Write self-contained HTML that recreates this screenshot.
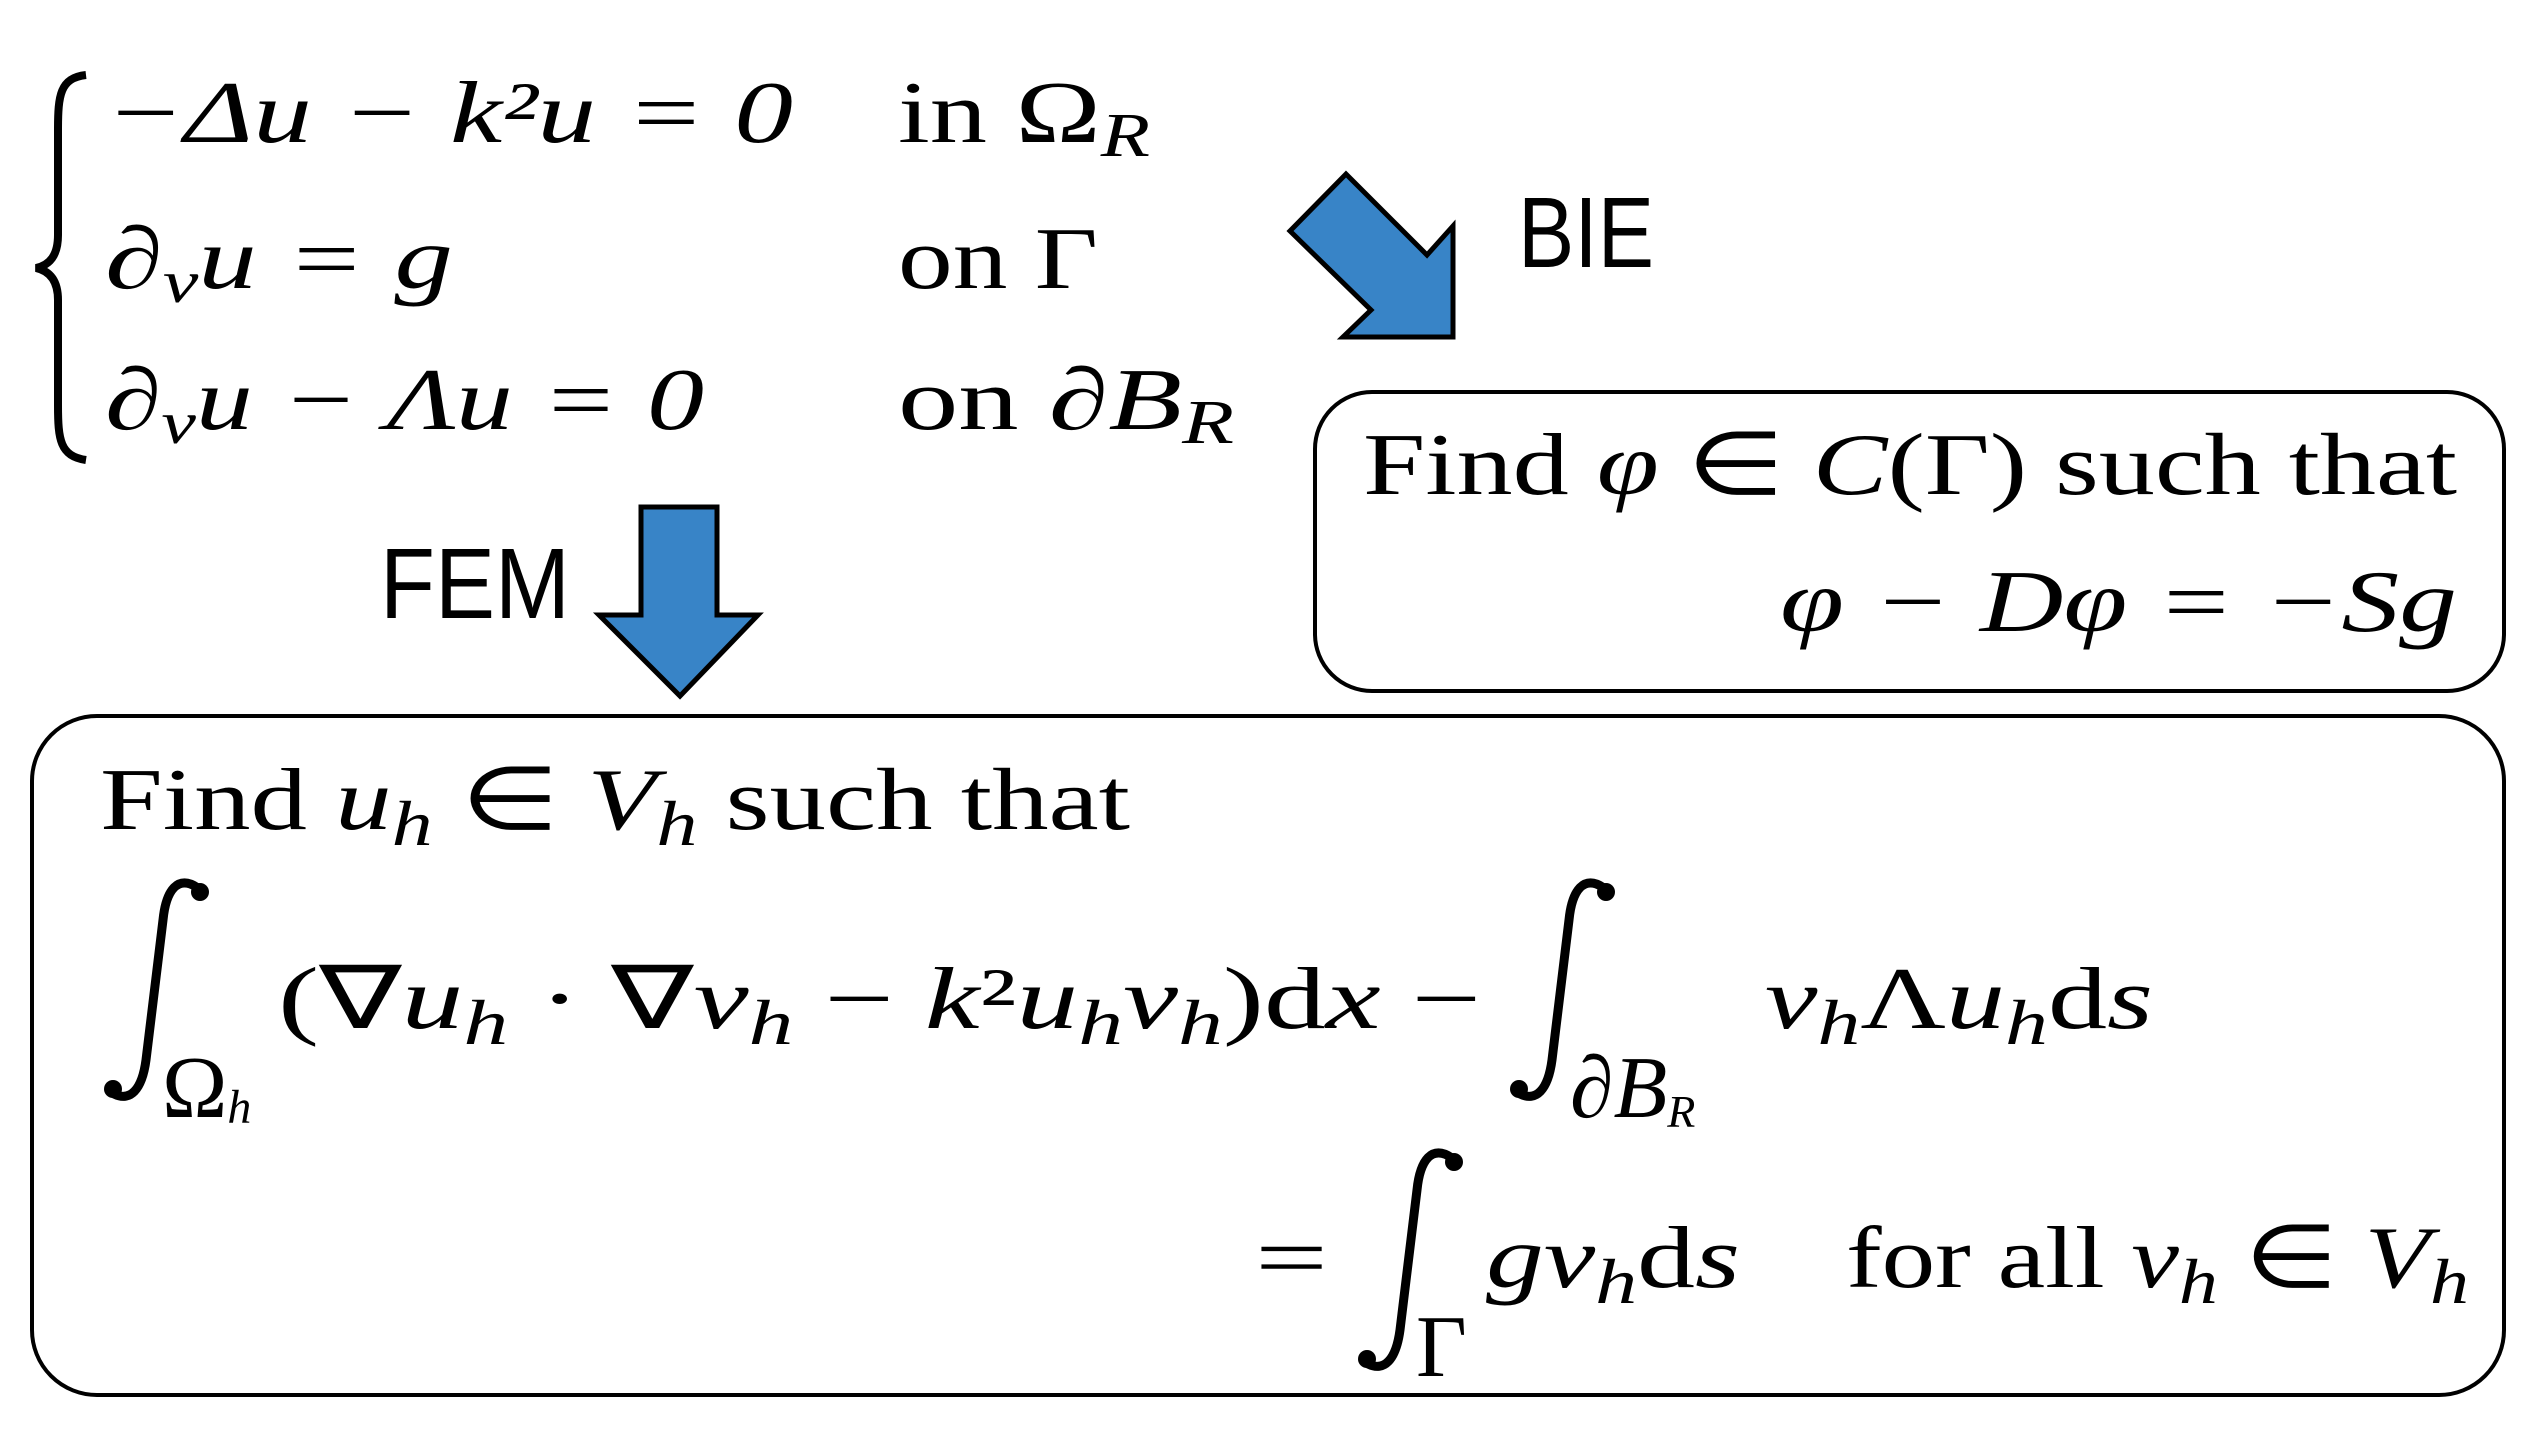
<!DOCTYPE html>
<html><head><meta charset="utf-8"><style>
html,body{margin:0;padding:0;background:#fff;}
svg{display:block}
.m{font-family:"Liberation Serif",serif;font-size:88px;fill:#000}
.i{font-style:italic}
.s{font-family:"Liberation Sans",sans-serif;fill:#000}
</style></head><body>
<svg width="2538" height="1435" viewBox="0 0 2538 1435" xmlns="http://www.w3.org/2000/svg">
<defs>
<g id="int">
<path d="M90 8 C 70 -6 58 10 55 40 L 38 180 C 34 210 22 222 6 214" fill="none" stroke="#000" stroke-width="9"/>
<circle cx="92" cy="12" r="9"/><circle cx="5" cy="209" r="9"/>
</g>
</defs>
<path d="M86 75 C 60 78 58 95 58 130 L 58 235 C 58 255 50 265 36 268 C 50 271 58 281 58 300 L 58 405 C 58 440 60 456 86 460" fill="none" stroke="#000" stroke-width="8"/>
<text class="m i" x="105" y="142" textLength="688" lengthAdjust="spacingAndGlyphs">−Δu − k²u = 0</text>
<text class="m" x="898" y="142" textLength="252" lengthAdjust="spacingAndGlyphs">in Ω<tspan class="i" font-size="62" dy="14">R</tspan></text>
<text class="m i" x="105" y="288" textLength="348" lengthAdjust="spacingAndGlyphs">∂<tspan font-size="60" dy="14">ν</tspan><tspan dy="-14">u = g</tspan></text>
<text class="m" x="898" y="288" textLength="200" lengthAdjust="spacingAndGlyphs">on Γ</text>
<text class="m i" x="105" y="429" textLength="599" lengthAdjust="spacingAndGlyphs">∂<tspan font-size="60" dy="14">ν</tspan><tspan dy="-14">u − Λu = 0</tspan></text>
<text class="m" x="898" y="429" textLength="336" lengthAdjust="spacingAndGlyphs">on <tspan class="i">∂B</tspan><tspan class="i" font-size="62" dy="14">R</tspan></text>
<polygon points="1290,231 1346,174 1427,255 1453,226 1453,337 1343,337 1371,310" fill="#3884c7" stroke="#000" stroke-width="5"/>
<text class="s" x="1518" y="267" font-size="100" textLength="136" lengthAdjust="spacingAndGlyphs">BIE</text>
<polygon points="641,507 717,507 717,615 758,615 680,696 599,615 641,615" fill="#3884c7" stroke="#000" stroke-width="5"/>
<text class="s" x="380" y="618" font-size="100" textLength="190" lengthAdjust="spacingAndGlyphs">FEM</text>
<rect x="1315" y="392" width="1189" height="299" rx="57" fill="none" stroke="#000" stroke-width="4"/>
<text class="m" x="1363" y="494" font-size="94" textLength="1094" lengthAdjust="spacingAndGlyphs">Find <tspan class="i">φ</tspan> ∈ <tspan class="i">C</tspan>(Γ) such that</text>
<text class="m i" x="1780" y="631" font-size="94" textLength="677" lengthAdjust="spacingAndGlyphs">φ − Dφ = −Sg</text>
<rect x="32" y="716" width="2472" height="679" rx="65" fill="none" stroke="#000" stroke-width="4"/>
<text class="m" x="100" y="829" font-size="94" textLength="1030" lengthAdjust="spacingAndGlyphs">Find <tspan class="i">u</tspan><tspan class="i" font-size="64" dy="16">h</tspan><tspan dy="-16"> ∈ </tspan><tspan class="i">V</tspan><tspan class="i" font-size="64" dy="16">h</tspan><tspan dy="-16"> such that</tspan></text>
<use href="#int" x="108" y="880"/>
<text class="m" x="162" y="1117" font-size="64">Ω<tspan class="i" font-size="48" dy="6">h</tspan></text>
<text class="m" x="278" y="1028" font-size="94" textLength="1203" lengthAdjust="spacingAndGlyphs">(∇<tspan class="i">u</tspan><tspan class="i" font-size="64" dy="16">h</tspan><tspan dy="-16"> · ∇</tspan><tspan class="i">v</tspan><tspan class="i" font-size="64" dy="16">h</tspan><tspan dy="-16"> − </tspan><tspan class="i">k</tspan>²<tspan class="i">u</tspan><tspan class="i" font-size="64" dy="16">h</tspan><tspan class="i" dy="-16">v</tspan><tspan class="i" font-size="64" dy="16">h</tspan><tspan dy="-16">)d</tspan><tspan class="i">x</tspan> −</text>
<use href="#int" x="1514" y="880"/>
<text class="m i" x="1570" y="1117" font-size="64">∂B<tspan font-size="46" dy="10">R</tspan></text>
<text class="m" x="1765" y="1028" font-size="94" textLength="388" lengthAdjust="spacingAndGlyphs"><tspan class="i">v</tspan><tspan class="i" font-size="64" dy="16">h</tspan><tspan dy="-16">Λ</tspan><tspan class="i">u</tspan><tspan class="i" font-size="64" dy="16">h</tspan><tspan dy="-16">d</tspan><tspan class="i">s</tspan></text>
<text class="m" x="1255" y="1287" font-size="100" textLength="73" lengthAdjust="spacingAndGlyphs">=</text>
<use href="#int" x="1362" y="1150"/>
<text class="m" x="1416" y="1376" font-size="64">Γ</text>
<text class="m" x="1486" y="1287" font-size="94" textLength="254" lengthAdjust="spacingAndGlyphs"><tspan class="i">gv</tspan><tspan class="i" font-size="64" dy="16">h</tspan><tspan dy="-16">d</tspan><tspan class="i">s</tspan></text>
<text class="m" x="1846" y="1287" font-size="94" textLength="623" lengthAdjust="spacingAndGlyphs">for all <tspan class="i">v</tspan><tspan class="i" font-size="64" dy="16">h</tspan><tspan dy="-16"> ∈ </tspan><tspan class="i">V</tspan><tspan class="i" font-size="64" dy="16">h</tspan></text>
</svg>
</body></html>
